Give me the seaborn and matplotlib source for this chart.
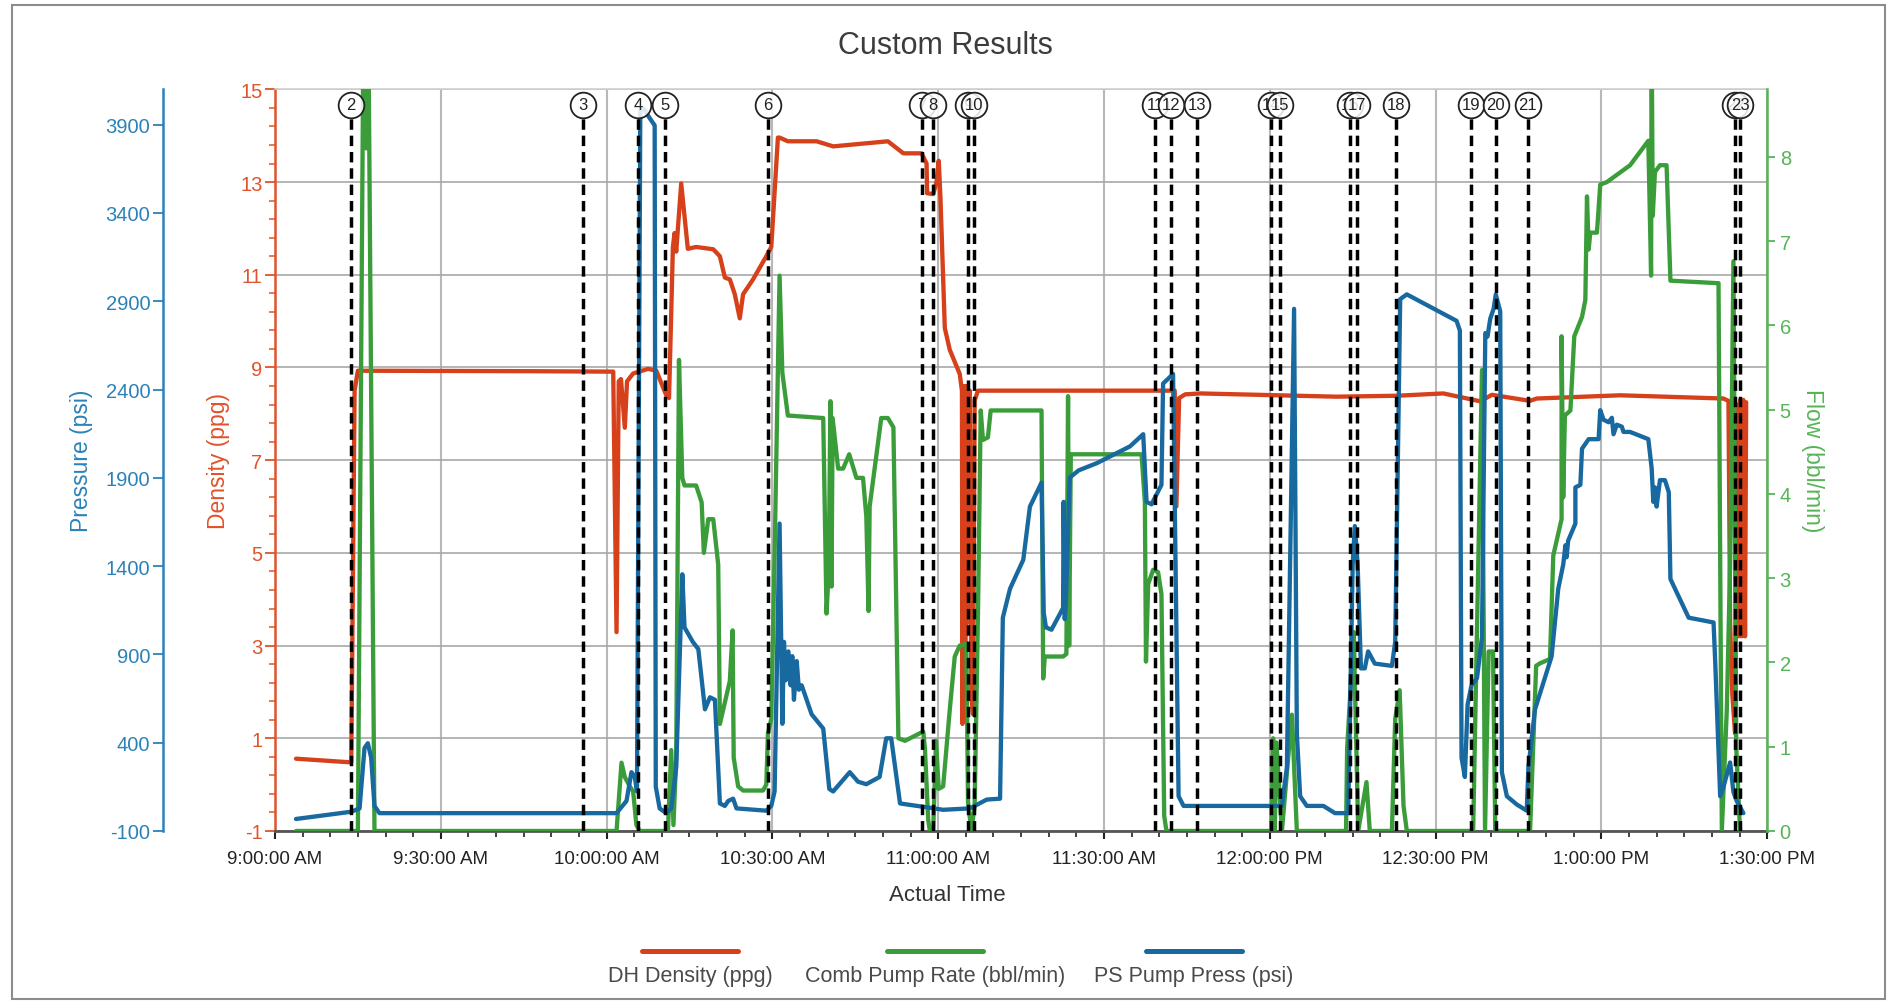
import pandas as pd
import numpy as np
import matplotlib
matplotlib.use("Agg")
import matplotlib.pyplot as plt
import matplotlib.dates as mdates
import matplotlib.transforms as mtransforms
from matplotlib.lines import Line2D
from matplotlib.patches import Rectangle
from matplotlib.ticker import FixedLocator
import seaborn as sns

# -------------------------
# Data (time = minutes after 9:00:00 AM)
# -------------------------
dens_min = [3.8, 13.8, 14.4, 15.0, 46.0, 61.2, 61.8, 62.2, 62.6, 63.3,
            63.7, 64.8, 67.5, 69.0, 70.8, 71.3, 72.0, 72.3, 72.6, 73.5,
            74.7, 76.2, 79.3, 80.5, 81.4, 82.3, 83.2, 84.1, 84.7, 86.5,
            88.9, 89.8, 91.0, 91.3, 92.8, 98.0, 101.0, 110.9, 113.7, 117.0,
            117.9, 118.0, 119.1, 119.7, 120.1, 120.4, 121.2, 122.1, 123.9, 124.3,
            124.4, 124.6, 124.9, 125.1, 125.4, 125.7, 126.0, 126.3, 126.6, 127.2,
            162.8, 163.1, 163.6, 164.7, 167.4, 192.1, 203.0, 211.4, 218.1, 220.2,
            227.1, 228.3, 243.4, 262.1, 263.0, 263.3, 263.7, 264.2, 264.5, 264.8,
            265.1, 265.4, 265.7, 266.0, 266.2]
dens_ppg = [0.56, 0.48, 8.5, 8.93, 8.92, 8.91, 3.29, 8.7, 8.75, 7.7,
            8.7, 8.87, 8.97, 8.93, 8.4, 8.34, 11.6, 11.9, 11.5, 12.97,
            11.56, 11.6, 11.55, 11.4, 10.94, 10.9, 10.58, 10.06, 10.58, 10.9,
            11.4, 11.6, 13.96, 13.96, 13.88, 13.88, 13.77, 13.88, 13.62, 13.62,
            13.4, 12.76, 12.74, 13.0, 13.46, 12.7, 9.85, 9.38, 8.86, 8.5,
            1.31, 8.6, 2.5, 8.6, 3.5, 8.5, 1.9, 1.52, 8.29, 8.5,
            8.5, 6.0, 8.34, 8.42, 8.44, 8.37, 8.39, 8.44, 8.27, 8.41,
            8.28, 8.33, 8.4, 8.33, 8.28, 3.5, 1.94, 1.1, 8.2, 3.2,
            8.3, 3.2, 8.3, 3.2, 8.25]

rate_min = [3.8, 15.0, 16.0, 16.5, 16.9, 18.0, 61.8, 62.7, 63.3, 64.2,
            64.8, 65.4, 66.0, 71.1, 71.7, 72.1, 72.6, 73.1, 73.7, 74.1,
            76.2, 77.2, 77.6, 78.4, 79.3, 80.2, 80.5, 82.3, 82.8, 83.0,
            83.8, 84.7, 88.3, 88.9, 89.2, 89.8, 90.4, 91.3, 91.8, 92.8,
            99.2, 99.8, 100.2, 100.5, 100.7, 100.9, 101.9, 102.8, 103.9, 105.2,
            106.4, 107.0, 107.4, 107.6, 109.7, 110.9, 111.9, 112.8, 114.0, 117.3,
            117.6, 118.2, 118.5, 119.1, 119.6, 120.1, 120.9, 122.1, 123.0, 123.9,
            125.1, 125.4, 126.0, 126.6, 127.2, 127.7, 128.1, 129.0, 129.5, 138.7,
            139.0, 139.3, 142.6, 143.2, 143.5, 143.7, 144.0, 156.8, 157.4, 157.6,
            158.0, 158.9, 159.8, 160.4, 160.9, 161.3, 180.3, 180.6, 180.9, 181.2,
            182.2, 184.0, 184.9, 193.8, 194.0, 195.2, 196.0, 197.5, 198.1, 202.1,
            202.7, 203.5, 204.2, 204.8, 216.8, 218.4, 218.95, 219.6, 220.4, 220.8,
            227.1, 228.2, 228.9, 230.7, 231.3, 232.8, 232.8, 233.1, 233.4, 234.4,
            235.1, 236.5, 237.1, 237.4, 237.7, 238.0, 239.2, 239.8, 241.0, 245.2,
            248.5, 249.0, 249.1, 249.3, 249.7, 250.6, 251.8, 252.5, 261.2, 261.8,
            262.7, 263.3, 263.9, 264.4, 265.1]
rate_bpm = [0, 0, 9.5, 8.1, 9.5, 0, 0, 0.81, 0.64, 0.53,
            0.47, 0.07, 0, 0, 0.96, 0.07, 0.87, 5.59, 4.19, 4.1,
            4.1, 3.9, 3.3, 3.7, 3.7, 3.16, 1.27, 1.78, 2.38, 0.87,
            0.53, 0.48, 0.48, 0.55, 1.16, 1.33, 3.27, 6.59, 5.44, 4.93,
            4.9, 2.58, 3.1, 5.1, 2.9, 4.9, 4.3, 4.3, 4.47, 4.19,
            4.19, 3.73, 2.61, 3.85, 4.9, 4.9, 4.79, 1.1, 1.07, 1.18,
            0.98, 0.13, 0, 0, 1.07, 0.5, 0.53, 1.44, 2.07, 2.2,
            2.22, 0.35, 0, 0.3, 2.58, 4.99, 4.64, 4.67, 4.99, 4.99,
            1.81, 2.07, 2.07, 2.1, 5.16, 2.2, 4.47, 4.47, 3.9, 2.01,
            2.93, 3.1, 3.07, 2.81, 0.18, 0, 0, 1.1, 0, 1.05,
            0, 1.38, 0, 0, 0.98, 2.36, 0, 0.58, 0, 0,
            1.33, 1.67, 0.3, 0, 0, 5.47, 0, 2.13, 2.13, 0,
            0, 1.96, 1.99, 2.04, 3.27, 3.7, 5.87, 3.96, 4.93, 4.99,
            5.87, 6.1, 6.3, 7.53, 6.9, 7.1, 7.1, 7.67, 7.7, 7.9,
            8.19, 6.59, 9.5, 7.3, 7.82, 7.9, 7.9, 6.53, 6.5, 0,
            1.44, 3.16, 6.76, 1.0, 0]

press_min = [3.8, 13.8, 15.3, 16.2, 16.8, 17.4, 18.0, 18.9, 61.8, 63.6,
             64.5, 65.1, 65.5, 66.1, 66.7, 67.8, 68.7, 68.9, 69.6, 70.8,
             71.7, 72.6, 73.2, 73.7, 74.1, 75.6, 76.6, 77.8, 78.7, 79.6,
             80.5, 81.4, 82.0, 82.9, 83.5, 88.9, 89.8, 90.4, 91.3, 91.8,
             92.1, 92.4, 92.9, 93.3, 93.6, 93.9, 94.4, 94.8, 95.3, 97.1,
             99.2, 100.3, 101.0, 104.0, 105.5, 107.0, 109.4, 110.6, 111.5, 113.1,
             117.3, 120.9, 125.7, 126.6, 128.8, 131.2, 131.7, 133.0, 135.4, 136.6,
             138.7, 139.1, 139.5, 140.5, 142.6, 142.7, 142.9, 143.1, 143.8, 145.4,
             148.7, 154.7, 157.1, 157.7, 158.6, 160.4, 160.7, 162.5, 163.5, 164.4,
             182.2, 183.1, 184.4, 184.9, 185.5, 186.7, 189.7, 191.8, 194.2, 195.0,
             195.4, 195.9, 196.5, 197.2, 197.8, 199.0, 202.1, 202.7, 203.6, 204.8,
             213.8, 214.4, 214.7, 215.3, 215.8, 216.5, 217.5, 218.4, 219.0, 219.4,
             219.9, 220.5, 220.9, 221.7, 222.0, 222.9, 224.7, 226.5, 226.8, 228.0,
             231.0, 232.2, 233.1, 233.5, 233.7, 234.0, 235.3, 235.3, 236.2, 236.5,
             237.7, 239.5, 239.8, 240.4, 241.3, 241.9, 242.2, 242.8, 243.7, 244.0,
             245.2, 248.5, 249.1, 249.4, 249.7, 250.0, 250.6, 251.5, 252.2, 252.5,
             255.8, 260.3, 260.6, 261.5, 262.1, 263.3, 263.9, 264.5, 265.7]
press_psi = [-32, 9, 28, 370, 397, 315, 42, 1, 1, 70,
             233, 206, 124, 3977, 3991, 3937, 3896, 151, 28, 1,
             28, 261, 862, 1354, 1053, 971, 930, 589, 657, 643,
             56, 42, 70, 83, 28, 15, 42, 124, 1641, 507,
             971, 753, 917, 725, 890, 643, 862, 700, 725, 561,
             480, 138, 124, 233, 179, 165, 206, 425, 425, 56,
             37, 20, 28, 42, 78, 83, 1108, 1272, 1436, 1737,
             1873, 1135, 1053, 1040, 1163, 1764, 1100, 1190, 1901, 1942,
             1983, 2078, 2147, 1764, 1750, 1860, 2434, 2488, 97, 42,
             42, 261, 2857, 452, 97, 42, 42, 1, 1, 1409,
             1627, 1409, 821, 821, 917, 848, 835, 971, 2912, 2939,
             2789, 2734, 315, 206, 616, 725, 766, 999, 2720, 2700,
             2802, 2857, 2939, 2843, 233, 97, 50, 15, 261, 589,
             889, 1272, 1409, 1518, 1450, 1545, 1641, 1846, 1860, 2065,
             2119, 2119, 2283, 2229, 2215, 2240, 2147, 2201, 2190, 2160,
             2160, 2119, 1955, 1764, 1846, 1737, 1887, 1887, 1819, 1327,
             1108, 1081, 860, 97, 150, 288, 120, 69, 1]

event_min = [13.8, 55.7, 65.7, 70.6, 89.2, 117.1, 119.0, 125.4, 126.5, 159.3, 162.2,
             166.8, 180.2, 181.85, 194.5, 195.8, 202.8, 216.5, 220.9, 226.7, 264.2, 265.1]
event_labels = ["2", "3", "4", "5", "6", "7", "8", "9", "10", "11", "12",
                "13", "14", "15", "16", "17", "18", "19", "20", "21", "22", "23"]

dens_ticks = [-1, 1, 3, 5, 7, 9, 11, 13, 15]
press_ticks = [-100, 400, 900, 1400, 1900, 2400, 2900, 3400, 3900]
flow_ticks = [0, 1, 2, 3, 4, 5, 6, 7, 8]
series_names = ["DH Density (ppg)", "Comb Pump Rate (bbl/min)", "PS Pump Press (psi)"]

RED, GREEN, BLUE = "#d6401a", "#3a9d3a", "#17699f"
DENS_C, FLOW_C, PRESS_C = "#e0532b", "#57b457", "#2b82b9"

sns.set_style("ticks")
plt.rcParams["font.family"] = ["Liberation Sans", "DejaVu Sans"]
plt.rcParams["axes.unicode_minus"] = False

start = pd.Timestamp("2024-01-01 09:00:00")


def frame(mins, vals):
    return pd.DataFrame({"time": start + pd.to_timedelta(mins, unit="min"), "value": vals})


fig = plt.figure(figsize=(18.9, 10.03), dpi=100)
ax_d = fig.add_axes([0.1455, 0.1705, 0.935 - 0.1455, 0.9099 - 0.1705])
ax_f = ax_d.twinx()
ax_p = ax_d.twinx()

line_kw = dict(x="time", y="value", estimator=None, sort=False, lw=3.1)
sns.lineplot(data=frame(dens_min, dens_ppg), color=RED, ax=ax_d, **line_kw)
sns.lineplot(data=frame(rate_min, rate_bpm), color=GREEN, ax=ax_f, **line_kw)
sns.lineplot(data=frame(press_min, press_psi), color=BLUE, ax=ax_p, **line_kw)

# -------------------------
# Event markers
# -------------------------
trans = mtransforms.blended_transform_factory(ax_p.transData, ax_p.transAxes)
ev_times = start + pd.to_timedelta(event_min, unit="min")
for i, (t, lab) in enumerate(zip(ev_times, event_labels)):
    x = mdates.date2num(t)
    ax_p.plot([x, x], [0, 0.962], transform=trans, color="black", lw=2.5,
              ls=(0, (3, 1.7)), zorder=10)
    ax_p.plot([x], [0.979], transform=trans, marker="o", ms=18.5,
              mfc=(1, 1, 1, 0.85), mec="#222222", mew=1.3, zorder=20 + 2 * i, clip_on=False)
    ax_p.text(x, 0.979, lab, transform=trans, ha="center", va="center",
              fontsize=12, color="#222222", zorder=21 + 2 * i)

# -------------------------
# Axes styling
# -------------------------
ax_d.set_xlim(start, start + pd.Timedelta(minutes=270))
ax_d.xaxis.set_major_locator(mdates.MinuteLocator(byminute=[0, 30]))
ax_d.xaxis.set_minor_locator(mdates.MinuteLocator(byminute=range(0, 60, 5)))
ax_d.xaxis.set_major_formatter(mdates.DateFormatter("%-I:%M:%S %p"))

ax_d.set_ylim(-1, 15)
ax_d.yaxis.set_major_locator(FixedLocator(dens_ticks))
ax_d.yaxis.set_minor_locator(FixedLocator(np.arange(-1, 15.01, 0.4)))
ax_d.grid(axis="y", which="major", color="#a8a8a8", lw=1.2)
ax_d.grid(axis="x", which="major", color="#b8b8b8", lw=1.5)
ax_d.tick_params(axis="y", which="major", colors=DENS_C, length=7, width=1.3, labelsize=14.5, pad=2)
ax_d.tick_params(axis="y", which="minor", colors=DENS_C, length=4, width=1.1, left=True)
ax_d.tick_params(axis="x", which="major", color="#222222", labelcolor="#222222",
                 length=6, width=1.5, labelsize=13.5, pad=8)
ax_d.tick_params(axis="x", which="minor", color="#222222", length=4, width=1.2, bottom=True)
ax_d.spines["right"].set_visible(False)
ax_d.spines["left"].set_color(DENS_C)
ax_d.spines["left"].set_linewidth(1.8)
ax_d.spines["bottom"].set_color("#555555")
ax_d.spines["bottom"].set_linewidth(2)
ax_d.spines["top"].set_color("#d0d0d0")
ax_d.spines["top"].set_linewidth(1.2)
ax_d.set_ylabel("Density (ppg)", color=DENS_C, fontsize=16.5)
ax_d.yaxis.set_label_coords(-0.030, 0.5)
ax_d.set_xlabel("Actual Time", color="#333333", fontsize=16)
ax_d.xaxis.set_label_coords(0.4507, -0.072)

ax_f.set_ylim(0, 8.8)
ax_f.yaxis.set_major_locator(FixedLocator(flow_ticks))
ax_f.tick_params(axis="y", colors=FLOW_C, length=6, width=1.3, labelsize=14.5, pad=3)
for side in ["left", "top", "bottom"]:
    ax_f.spines[side].set_visible(False)
ax_f.spines["right"].set_color(FLOW_C)
ax_f.spines["right"].set_linewidth(1.8)
ax_f.set_ylabel("Flow (bbl/min)", color=FLOW_C, fontsize=16.5, rotation=270, va="bottom")
ax_f.yaxis.set_label_coords(1.023, 0.5)

ax_p.set_ylim(-100, 4100)
ax_p.yaxis.set_major_locator(FixedLocator(press_ticks))
ax_p.spines["left"].set_position(("axes", -0.0751))
ax_p.spines["left"].set_visible(True)
ax_p.spines["left"].set_color(PRESS_C)
ax_p.spines["left"].set_linewidth(1.8)
for side in ["right", "top", "bottom"]:
    ax_p.spines[side].set_visible(False)
ax_p.yaxis.set_ticks_position("left")
ax_p.yaxis.set_label_position("left")
ax_p.tick_params(axis="y", colors=PRESS_C, length=7, width=1.3, labelsize=14.5, pad=2)
ax_p.set_ylabel("Pressure (psi)", color=PRESS_C, fontsize=16.5)
ax_p.yaxis.set_label_coords(-0.122, 0.5)

# -------------------------
# Title, legend, frame
# -------------------------
fig.text(0.5, 0.954, "Custom Results", ha="center", va="center", fontsize=22, color="#3c3c3c")

legend_x = [0.3651, 0.4947, 0.6317]
for name, col, cx in zip(series_names, [RED, GREEN, BLUE], legend_x):
    fig.add_artist(Line2D([cx - 0.0254, cx + 0.0254], [0.0508, 0.0508],
                          transform=fig.transFigure, color=col, lw=3.6))
    fig.text(cx, 0.0269, name, ha="center", va="center", fontsize=15.5, color="#4a4a4a")

fig.add_artist(Rectangle((0.0062, 0.003), 0.9912, 0.991, transform=fig.transFigure,
                         fill=False, ec="#8c8c8c", lw=1.5))

fig.savefig("out.png", dpi=100)
